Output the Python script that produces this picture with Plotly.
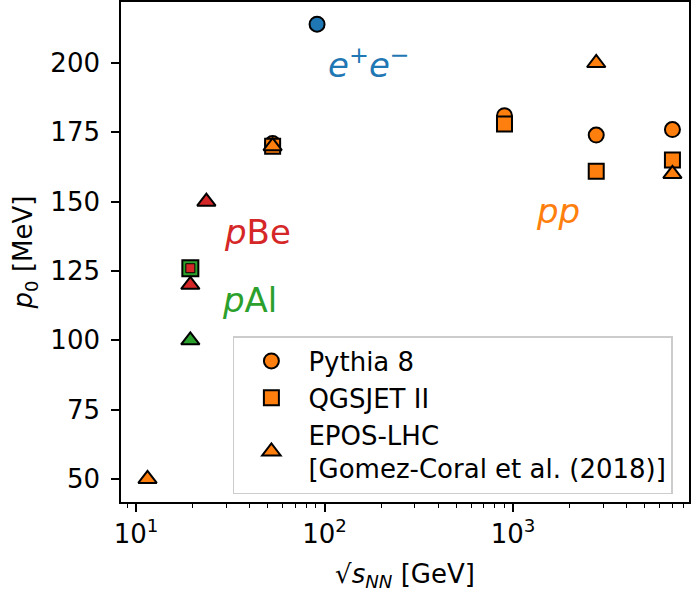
import plotly.graph_objects as go
import math

# ---- data ----
pythia_x = [53, 900, 2760, 7000]
pythia_y = [171, 181, 174, 176]
qgsjet_x = [53, 900, 2760, 7000]
qgsjet_y = [170, 178, 161, 165]
epos_x = [11.5, 53, 2760, 7000]
epos_y = [50, 170, 200, 160]

ee_x = [91.2]
ee_y = [214]

pbe_qgs_x = [19.4]
pbe_qgs_y = [126]
pbe_epos_x = [23.6, 19.4]
pbe_epos_y = [150, 120]

pal_qgs_x = [19.4]
pal_qgs_y = [126]
pal_epos_x = [19.4]
pal_epos_y = [100]

y_ticks = [50, 75, 100, 125, 150, 175, 200]
x_ticks = [10, 100, 1000]
x_ticktext = ["10<sup>1</sup>", "10<sup>2</sup>", "10<sup>3</sup>"]

BLUE = "#1f77b4"
ORANGE = "#ff7f0e"
GREEN = "#2ca02c"
RED = "#d62728"

FONT = "DejaVu Sans"
FS = 26

fig = go.Figure()

def mk(symbol, color, size=15, lw=2):
    return dict(symbol=symbol, color=color, size=size, line=dict(color="black", width=lw))

TRI = 16

# e+e-
fig.add_trace(go.Scatter(x=ee_x, y=ee_y, mode="markers", marker=mk("circle", BLUE), showlegend=False))
# pAl
fig.add_trace(go.Scatter(x=pal_qgs_x, y=pal_qgs_y, mode="markers", marker=mk("square", GREEN, 16), showlegend=False))
fig.add_trace(go.Scatter(x=pal_epos_x, y=pal_epos_y, mode="markers", marker=mk("triangle-up", GREEN, TRI), showlegend=False))
# pBe
fig.add_trace(go.Scatter(x=pbe_qgs_x, y=pbe_qgs_y, mode="markers", marker=mk("square", RED, 9, 1), showlegend=False))
fig.add_trace(go.Scatter(x=pbe_epos_x, y=pbe_epos_y, mode="markers", marker=mk("triangle-up", RED, TRI), showlegend=False))
# pp
fig.add_trace(go.Scatter(x=pythia_x, y=pythia_y, mode="markers", name="Pythia 8",
                         marker=mk("circle", ORANGE), legendrank=1))
fig.add_trace(go.Scatter(x=qgsjet_x, y=qgsjet_y, mode="markers", name="QGSJET II",
                         marker=mk("square", ORANGE), legendrank=2))
fig.add_trace(go.Scatter(x=epos_x, y=epos_y, mode="markers", name="EPOS-LHC<br>[Gomez-Coral et al. (2018)]",
                         marker=mk("triangle-up", ORANGE, TRI), legendrank=3))

annots = [
    dict(x=math.log10(173), y=200, text="<i>e</i><sup>+</sup><i>e</i><sup>−</sup>", color=BLUE),
    dict(x=math.log10(44), y=139, text="<i>p</i>Be", color=RED),
    dict(x=math.log10(40), y=114.5, text="<i>p</i>Al", color=GREEN),
    dict(x=math.log10(1733), y=146.5, text="<i>pp</i>", color=ORANGE),
]
for a in annots:
    fig.add_annotation(x=a["x"], y=a["y"], xref="x", yref="y", text=a["text"], showarrow=False,
                       font=dict(family=FONT, size=34, color=a["color"]), xanchor="center", yanchor="middle")

fig.update_layout(
    width=691, height=592,
    margin=dict(l=121, r=2, t=2, b=90, autoexpand=False),
    paper_bgcolor="white", plot_bgcolor="white",
    font=dict(family=FONT, size=FS, color="black"),
    legend=dict(x=0.197, y=0.332, xanchor="left", yanchor="top",
                bordercolor="#cccccc", borderwidth=1.5, bgcolor="rgba(255,255,255,0.8)",
                font=dict(family=FONT, size=FS), tracegroupgap=0, itemwidth=64),
)
fig.update_xaxes(type="log", range=[0.92, 3.933], showgrid=False, zeroline=False, automargin=False,
                 showline=True, linecolor="black", linewidth=1.6, mirror=True,
                 ticks="outside", ticklen=8, tickwidth=1.6, tickcolor="black",
                 tickmode="array", tickvals=x_ticks, ticktext=x_ticktext,
                 minor=dict(ticks="outside", ticklen=4.5, tickwidth=1.2, tickcolor="black", dtick="D1", showgrid=False),
                 title=dict(text="√<i>s<sub>NN</sub></i> [GeV]", font=dict(size=FS), standoff=18))
fig.update_yaxes(range=[41.7, 222], showgrid=False, zeroline=False, automargin=False,
                 showline=True, linecolor="black", linewidth=1.6, mirror=True,
                 ticks="outside", ticklen=8, tickwidth=1.6, tickcolor="black",
                 tickmode="array", tickvals=y_ticks, ticklabelstandoff=6,
                 title=dict(text="<i>p</i><sub>0</sub> [MeV]", font=dict(size=FS), standoff=10))

fig.write_html("out.html", config={"displayModeBar": False},
               post_script="document.body.style.margin='0';document.body.style.padding='0';")
